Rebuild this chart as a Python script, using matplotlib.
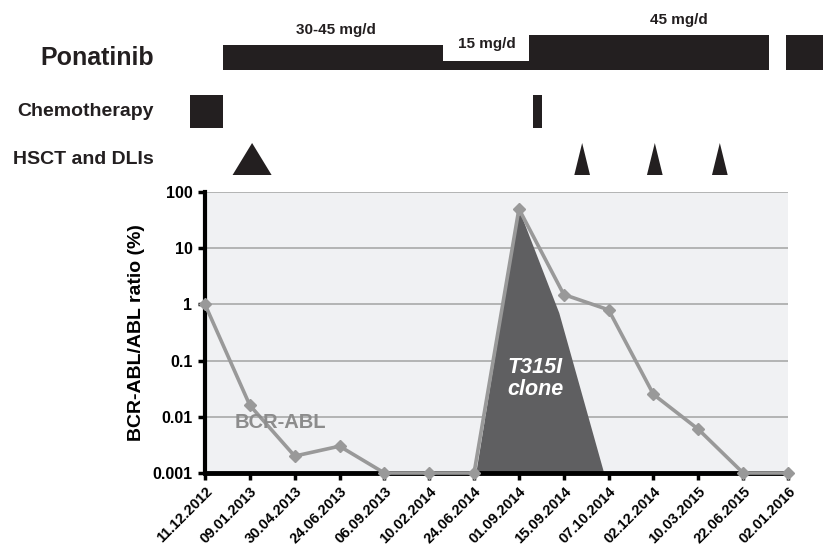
import matplotlib
matplotlib.use("Agg")
import matplotlib.pyplot as plt
from matplotlib.patches import Polygon
import numpy as np

plt.rcParams['font.family'] = ['Liberation Sans', 'DejaVu Sans']

# ---------------- data ----------------
dates = ['11.12.2012', '09.01.2013', '30.04.2013', '24.06.2013', '06.09.2013',
         '10.02.2014', '24.06.2014', '01.09.2014', '15.09.2014', '07.10.2014',
         '02.12.2014', '10.03.2015', '22.06.2015', '02.01.2016']
bcr_abl = [1, 0.016, 0.002, 0.003, 0.001, 0.001, 0.001, 50, 1.5, 0.8,
           0.025, 0.006, 0.001, 0.001]

# T315I clone (schematic area), on the category axis
clone_x = [6.05, 7, 7.9, 8.9]
clone_y = [0.001, 50, 0.7, 0.001]

ytick_vals = [0.001, 0.01, 0.1, 1, 10, 100]
ytick_labels = ['0.001', '0.01', '0.1', '1', '10', '100']

# treatment timeline (category-axis units)
pona_start = [0.40, 5.31, 7.22, 12.95]
pona_end = [5.31, 7.22, 12.58, 13.80]
pona_thick = [25, 9, 35, 35]          # bar thickness reflects dose level
dose_labels = ['30-45 mg/d', '15 mg/d', '45 mg/d']
dose_label_x = [2.93, 6.29, 10.57]
dose_label_y = [30, 44, 20]

chemo_start = [-0.33, 7.31]
chemo_end = [0.40, 7.51]

hsct_x = [1.05]
dli_x = [8.41, 10.03, 11.48]

# ---------------- figure ----------------
W, H = 823, 548
fig = plt.figure(figsize=(W / 100, H / 100), dpi=100)

ax_l, ax_r, ax_t, ax_b = 205, 788, 192, 473
ax = fig.add_axes([ax_l / W, 1 - ax_b / H, (ax_r - ax_l) / W, (ax_b - ax_t) / H])
ax.set_facecolor('#f0f1f3')
ax.set_yscale('log')
ax.set_ylim(0.001, 100)
ax.set_xlim(0, len(dates) - 1)

ax.yaxis.grid(True, which='major', color='#a9a9a9', lw=1.2)
ax.set_axisbelow(True)
ax.minorticks_off()
ax.set_yticks(ytick_vals)
ax.set_yticklabels(ytick_labels, fontsize=11.5, fontweight='bold')
ax.set_xticks(range(len(dates)))
ax.set_xticklabels(dates, rotation=45, ha='right', rotation_mode='anchor',
                   fontsize=10.5, fontweight='bold')
ax.tick_params(axis='both', length=5, width=2.5, color='black', pad=4)
ax.tick_params(axis='x', pad=3)

for s in ['top', 'right']:
    ax.spines[s].set_visible(False)
ax.spines['left'].set_linewidth(3)
ax.spines['bottom'].set_linewidth(3.5)

ax.set_ylabel('BCR-ABL/ABL ratio (%)', fontsize=14, fontweight='bold', labelpad=5)

# T315I clone area
ax.fill(clone_x, clone_y, color='#5f5f61', zorder=2, lw=0)

# BCR-ABL line
x = np.arange(len(dates))
ax.plot(x, bcr_abl, color='#999999', lw=2.6, marker='D', ms=6,
        mfc='#999999', mec='#999999', zorder=4, clip_on=False)

ax.text(0.65, 0.008, 'BCR-ABL', color='#8c8c8c', fontsize=14.5,
        fontweight='bold', va='center', ha='left', zorder=5)
ax.text(7.36, 0.048, 'T315I\nclone', color='white', fontsize=15.5,
        fontweight='bold', fontstyle='italic', ha='center', va='center',
        linespacing=1.1, zorder=5)

# ---------------- treatment timeline ----------------
top_h = 185
axt = fig.add_axes([ax_l / W, 1 - top_h / H, (ax_r - ax_l) / W, top_h / H])
axt.set_xlim(0, len(dates) - 1)
axt.set_ylim(top_h, 0)
axt.axis('off')

pona_bottom = 70
for s, e, t in zip(pona_start, pona_end, pona_thick):
    axt.bar(s, -t, width=e - s, bottom=pona_bottom, align='edge',
            color='#231f20', lw=0, clip_on=False)
for lab, lx, ly in zip(dose_labels, dose_label_x, dose_label_y):
    axt.text(lx, ly, lab, ha='center', va='center', fontsize=11,
             fontweight='bold', color='#231f20')

for s, e in zip(chemo_start, chemo_end):
    axt.bar(s, 128 - 95, width=e - s, bottom=95, align='edge',
            color='#231f20', lw=0, clip_on=False)

tri_top, tri_base = 143, 175
for cx in hsct_x:
    axt.add_patch(Polygon([(cx - 0.435, tri_base), (cx, tri_top), (cx + 0.435, tri_base)],
                          closed=True, color='#231f20', lw=0, clip_on=False))
for cx in dli_x:
    axt.add_patch(Polygon([(cx - 0.175, tri_base), (cx, tri_top), (cx + 0.175, tri_base)],
                          closed=True, color='#231f20', lw=0, clip_on=False))

fig.text(154 / W, 1 - 58 / H, 'Ponatinib', ha='right', va='center',
         fontsize=18, fontweight='bold', color='#231f20')
fig.text(154 / W, 1 - 112 / H, 'Chemotherapy', ha='right', va='center',
         fontsize=14, fontweight='bold', color='#231f20')
fig.text(154 / W, 1 - 160 / H, 'HSCT and DLIs', ha='right', va='center',
         fontsize=14, fontweight='bold', color='#231f20')

fig.savefig('out.png', dpi=100)
